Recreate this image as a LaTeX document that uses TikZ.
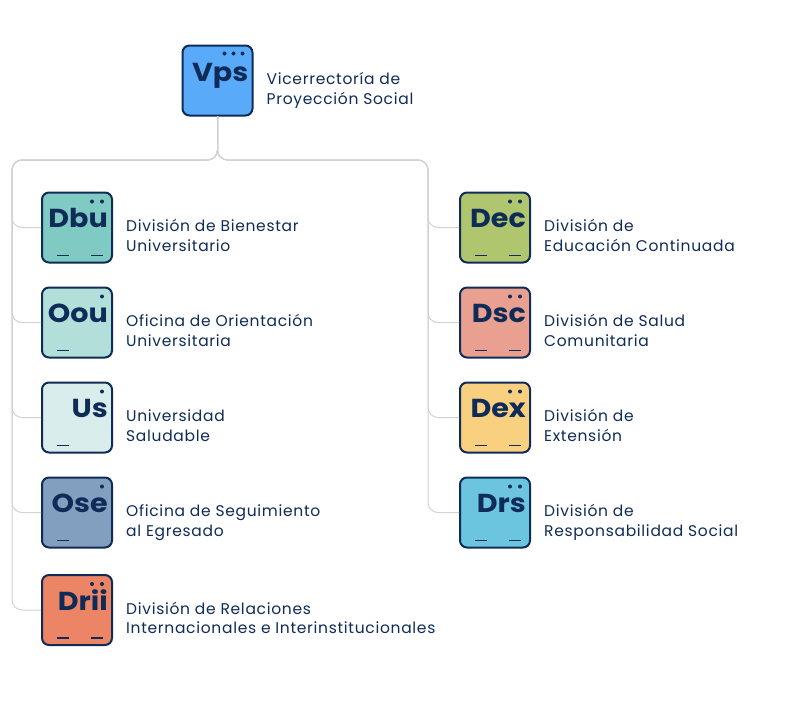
\documentclass[tikz,border=0pt]{standalone}
\usepackage{fontspec}
\setmainfont{Poppins}
\newfontfamily\namefont{Poppins}[LetterSpace=4.5]
\newfontfamily\symfont{Poppins}[FakeStretch=1.1]
\usepackage{xcolor}
\usetikzlibrary{positioning}
\definecolor{cNavy}{HTML}{0F2B57}
\definecolor{cLine}{HTML}{D2D2D2}
\definecolor{cVps}{HTML}{5AAAFA}
\definecolor{cDbu}{HTML}{7FCAC3}
\definecolor{cOou}{HTML}{B3DFDB}
\definecolor{cUs}{HTML}{D9EEEC}
\definecolor{cOse}{HTML}{829FBF}
\definecolor{cDrii}{HTML}{EC8466}
\definecolor{cDec}{HTML}{AFC66F}
\definecolor{cDsc}{HTML}{E9A090}
\definecolor{cDex}{HTML}{F9D07F}
\definecolor{cDrs}{HTML}{6CC5DF}
\tikzset{
  elem/.style={draw=cNavy, line width=2pt, rounded corners=7pt,
               minimum size=70pt, inner sep=0pt},
  sym/.style={anchor=base east, inner sep=0pt, text=cNavy,
              font=\symfont\fontsize{26}{26}\selectfont\bfseries},
  lbl/.style={anchor=west, inner sep=0pt, align=left, text=cNavy,
              font=\namefont\fontsize{15.5}{19.5}\selectfont},
  link/.style={draw=cLine, line width=1pt, rounded corners=10pt},
  shell/.style={draw=cNavy, line width=1.5pt}
}
\begin{document}
\begin{tikzpicture}[x=1pt, y=-1pt]
\useasboundingbox (0,0) rectangle (795,710);
% top
\node[elem, fill=cVps] (vps) at (217.5,80.5) {};
\node[sym] (vps-s) at ([xshift=-5pt,yshift=-1pt]vps.east) {Vps};
\node[lbl, right=13pt of vps, yshift=-10pt] (vps-t) {\strut Vicerrectoría de\\\strut Proyección Social};
% left column
\node[elem, fill=cDbu] (dbu) at (77,227.5) {};
\node[elem, fill=cOou] (oou) at (77,322.5) {};
\node[elem, fill=cUs] (us) at (77,417.5) {};
\node[elem, fill=cOse] (ose) at (77,512.5) {};
\node[elem, fill=cDrii] (drii) at (77,610) {};
% right column
\node[elem, fill=cDec] (dec) at (495,227.5) {};
\node[elem, fill=cDsc] (dsc) at (495,322.5) {};
\node[elem, fill=cDex] (dex) at (495,417.5) {};
\node[elem, fill=cDrs] (drs) at (495,512.5) {};
% symbols
\node[sym] (dbu-s) at ([xshift=-5pt]dbu.east) {Dbu};
\node[sym] (oou-s) at ([xshift=-5pt]oou.east) {Oou};
\node[sym] (us-s) at ([xshift=-5pt]us.east) {Us};
\node[sym] (ose-s) at ([xshift=-5pt]ose.east) {Ose};
\node[sym] (drii-s) at ([xshift=-5pt]drii.east) {Drii};
\node[sym] (dec-s) at ([xshift=-5pt]dec.east) {Dec};
\node[sym] (dsc-s) at ([xshift=-5pt]dsc.east) {Dsc};
\node[sym] (dex-s) at ([xshift=-5pt]dex.east) {Dex};
\node[sym] (drs-s) at ([xshift=-5pt]drs.east) {Drs};
% names
\node[lbl, right=13pt of dbu, yshift=-10pt] (dbu-t) {\strut División de Bienestar\\\strut Universitario};
\node[lbl, right=13pt of oou, yshift=-10pt] (oou-t) {\strut Oficina de Orientación\\\strut Universitaria};
\node[lbl, right=13pt of us, yshift=-10pt] (us-t) {\strut Universidad\\\strut Saludable};
\node[lbl, right=13pt of ose, yshift=-10pt] (ose-t) {\strut Oficina de Seguimiento\\\strut al Egresado};
\node[lbl, right=13pt of drii, yshift=-10pt] (drii-t) {\strut División de Relaciones\\\strut Internacionales e Interinstitucionales};
\node[lbl, right=13pt of dec, yshift=-10pt] (dec-t) {\strut División de\\\strut Educación Continuada};
\node[lbl, right=13pt of dsc, yshift=-10pt] (dsc-t) {\strut División de Salud\\\strut Comunitaria};
\node[lbl, right=13pt of dex, yshift=-10pt] (dex-t) {\strut División de\\\strut Extensión};
\node[lbl, right=13pt of drs, yshift=-10pt] (drs-t) {\strut División de\\\strut Responsabilidad Social};
% dots and dashes
\foreach \d in {-29pt,-20pt,-11pt}
  \fill[cNavy] ([shift={(\d,-9pt)}]vps.north east) circle[radius=2pt];
\foreach \n in {dbu,drii,dec,dsc,dex,drs}{
  \fill[cNavy] ([shift={(-21pt,-10pt)}]\n.north east) circle[radius=2pt];
  \fill[cNavy] ([shift={(-11pt,-10pt)}]\n.north east) circle[radius=2pt];
  \draw[shell] ([shift={(16pt,8pt)}]\n.south west) -- ++(12pt,0pt);
  \draw[shell] ([shift={(-22pt,8pt)}]\n.south east) -- ++(12pt,0pt);
}
\foreach \n in {oou,us,ose}{
  \fill[cNavy] ([shift={(-11pt,-10pt)}]\n.north east) circle[radius=2pt];
  \draw[shell] ([shift={(16pt,8pt)}]\n.south west) -- ++(12pt,0pt);
}
% connectors
\coordinate (lft) at (12,160);
\coordinate (rgt) at (428,160);
\foreach \n in {dbu,oou,us,ose,drii}
  \draw[link] (vps.south) |- (lft) |- (\n.west);
\foreach \n in {dec,dsc,dex,drs}
  \draw[link] (vps.south) |- (rgt) |- (\n.west);
\end{tikzpicture}
\end{document}
